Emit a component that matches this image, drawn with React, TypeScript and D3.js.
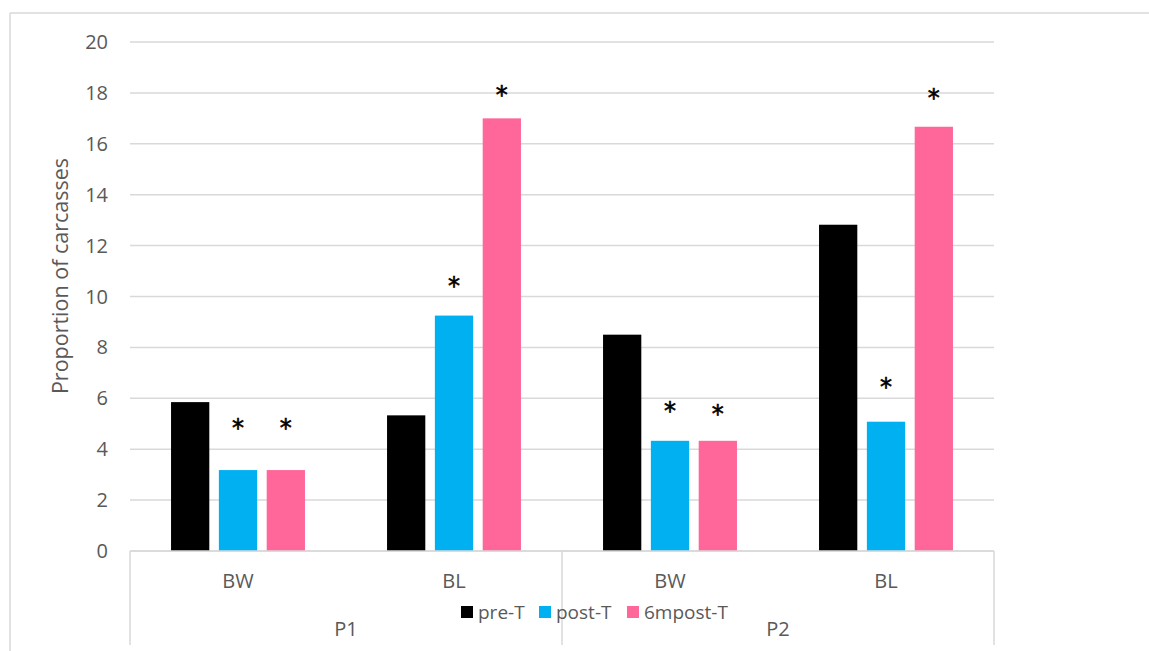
import React from "react";
import * as d3 from "d3";

const groups = ["P1", "P2"];
const categories = ["BW", "BL", "BW", "BL"];
const categoryGroup = ["P1", "P1", "P2", "P2"];
const seriesNames = ["pre-T", "post-T", "6mpost-T"];
const preT = [5.85, 5.33, 8.5, 12.82];
const postT = [3.18, 9.25, 4.33, 5.08];
const post6m = [3.18, 17.0, 4.33, 16.67];
// positions of significance asterisks (in y units), null = none
const starPre = [null, null, null, null];
const starPost = [5.03, 10.61, 5.7, 6.64];
const star6m = [5.03, 18.11, 5.58, 18.0];
const yTicks = [0, 2, 4, 6, 8, 10, 12, 14, 16, 18, 20];
const colors = ["#000000", "#00B0F0", "#FF6699"];

const W = 1149;
const H = 651;
const FONT = "'Open Sans', 'Noto Sans', sans-serif";
const GRID = "#d9d9d9";
const TXT = "#595959";

export default function App() {
  const values = [preT, postT, post6m];
  const stars = [starPre, starPost, star6m];
  const left = 130, right = 994, top = 42, bottom = 551;
  const y = d3.scaleLinear().domain([0, 20]).range([bottom, top]);
  const x0 = d3.scaleBand<number>().domain(d3.range(categories.length)).range([left, right]).paddingInner(0).paddingOuter(0);
  const bw0 = x0.bandwidth();
  const x1 = d3.scaleBand<number>().domain(d3.range(seriesNames.length)).range([bw0 * 0.19, bw0 * 0.81]).paddingInner(0.2).paddingOuter(0);
  const gScale = d3.scaleBand<string>().domain(groups).range([left, right]);

  return (
    <svg width={W} height={H} style={{ position: "absolute", left: 0, top: 0 }} fontFamily={FONT}>
      <rect x={0} y={0} width={W} height={H} fill="#fff" />
      {/* frame */}
      <line x1={10} y1={13} x2={W} y2={13} stroke={GRID} strokeWidth={1.5} />
      <line x1={10} y1={13} x2={10} y2={H} stroke={GRID} strokeWidth={1.5} />
      {/* gridlines */}
      {yTicks.map((t) => (
        <line key={t} x1={left} x2={right} y1={y(t)} y2={y(t)} stroke={GRID} strokeWidth={1.5} />
      ))}
      {yTicks.map((t) => (
        <text key={"l" + t} x={108} y={y(t) + 7} textAnchor="end" fontSize={20} fill={TXT}>
          {t}
        </text>
      ))}
      <text
        transform={`translate(68,276) rotate(-90)`}
        textAnchor="middle"
        fontSize={21.5}
        fill={TXT}
      >
        Proportion of carcasses
      </text>
      {/* bars */}
      {categories.map((c, i) =>
        values.map((vals, s) => (
          <rect
            key={`b${i}-${s}`}
            x={(x0(i) as number) + (x1(s) as number)}
            y={y(vals[i])}
            width={x1.bandwidth()}
            height={bottom - y(vals[i])}
            fill={colors[s]}
          />
        ))
      )}
      {/* stars */}
      {categories.map((c, i) =>
        stars.map((st, s) =>
          st[i] == null ? null : (
            <text
              key={`s${i}-${s}`}
              x={(x0(i) as number) + (x1(s) as number) + x1.bandwidth() / 2}
              y={y(st[i] as number) + 13}
              textAnchor="middle"
              fontSize={24}
              fontFamily="'DejaVu Sans', sans-serif"
              fill="#000"
              stroke="#000"
              strokeWidth={0.6}
            >
              *
            </text>
          )
        )
      )}
      {/* axis baseline */}
      <line x1={left} x2={right} y1={bottom} y2={bottom} stroke={GRID} strokeWidth={1.5} />
      {/* group dividers */}
      {[left, gScale("P2") as number, right].map((xx, i) => (
        <line key={"d" + i} x1={xx} x2={xx} y1={bottom} y2={645} stroke={GRID} strokeWidth={1.5} />
      ))}
      {/* category labels */}
      {categories.map((c, i) => (
        <text key={"c" + i} x={(x0(i) as number) + bw0 / 2} y={588} textAnchor="middle" fontSize={20} fill={TXT}>
          {c}
        </text>
      ))}
      {groups.map((g) => (
        <text key={g} x={(gScale(g) as number) + gScale.bandwidth() / 2} y={636} textAnchor="middle" fontSize={20} fill={TXT}>
          {g}
        </text>
      ))}
      {/* legend */}
      {seriesNames.map((n, s) => {
        const lx = [461, 539, 627][s];
        return (
          <g key={n}>
            <rect x={lx} y={606} width={12} height={12} fill={colors[s]} />
            <text x={lx + 17} y={619} fontSize={19} fill={TXT}>
              {n}
            </text>
          </g>
        );
      })}
    </svg>
  );
}
